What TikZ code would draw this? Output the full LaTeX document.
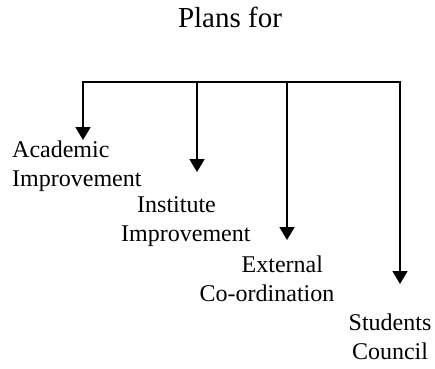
\documentclass[tikz,border=0pt]{standalone}
\usepackage{fontspec}
\setmainfont{Liberation Serif}
\usetikzlibrary{arrows.meta}

\begin{document}
\begin{tikzpicture}[x=1pt,y=-1pt,
		plantext/.style={inner sep=0pt, font=\fontsize{24}{29}\selectfont},
		branch/.style={line width=1.8pt, -{Triangle[width=15pt,length=13pt]}}]
			\useasboundingbox (0,0) rectangle (435,368);
			\node[inner sep=0pt, anchor=base, font=\fontsize{29}{34}\selectfont] (title) at (230,27.7) {Plans for};
			\coordinate (b1) at (83,82);
			\coordinate (b2) at (197,82);
			\coordinate (b3) at (287,82);
			\coordinate (b4) at (400,82);
			\coordinate (t1) at (83,140);
			\coordinate (t2) at (197,172);
			\coordinate (t3) at (287,240);
			\coordinate (t4) at (400,284);
			\draw[line width=1.8pt, line cap=rect] (b1) -- (b4);
			\draw[branch] (b1) -- (t1);
			\draw[branch] (b2) -- (t2);
			\draw[branch] (b3) -- (t3);
			\draw[branch] (b4) -- (t4);
			\node[plantext, align=left, anchor=north west] (acad) at (12,140.6) {Academic\\Improvement};
			\node[plantext, align=left, anchor=north west] (inst) at (121,196.6) {\hspace*{16pt}Institute\\Improvement};
			\node[plantext, align=left, anchor=north west] (extl) at (199.5,255.6) {\hspace*{42pt}External\\Co-ordination};
			\node[plantext, align=center, anchor=north] (stud) at (390,313.6) {Students\\Council};
		\end{tikzpicture}
\end{document}
